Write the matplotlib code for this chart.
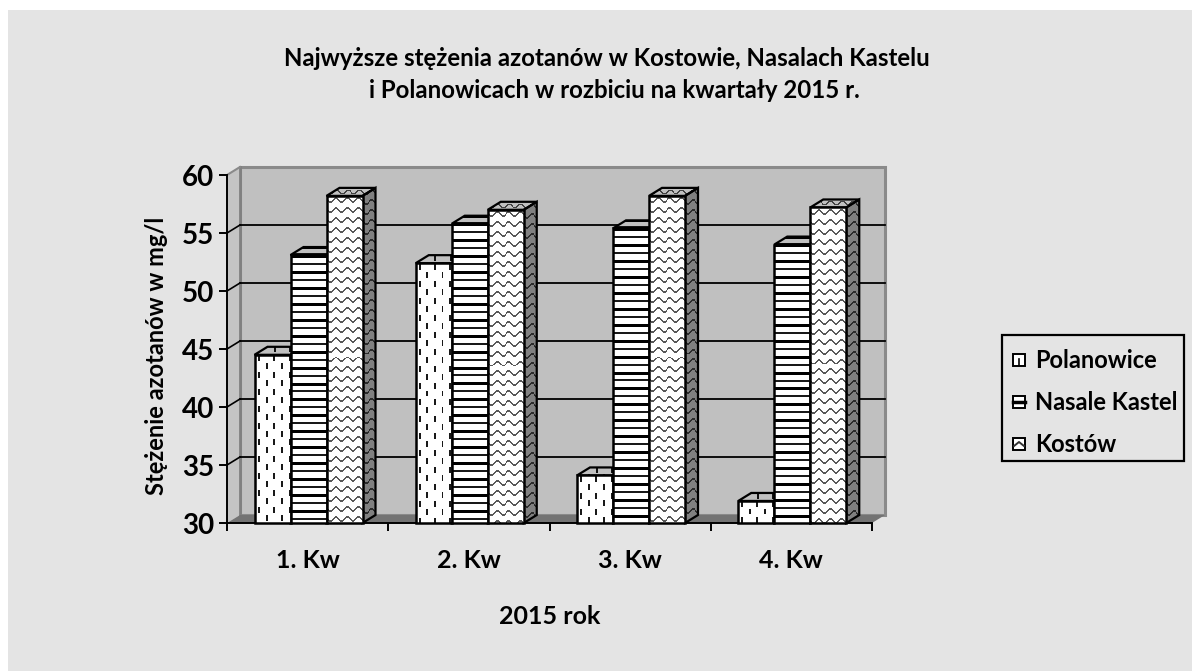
import numpy as np
import matplotlib
matplotlib.use('Agg')
import matplotlib.pyplot as plt
from matplotlib.patches import Polygon, Rectangle
from matplotlib.lines import Line2D

plt.rcParams['font.family'] = ['Lato', 'DejaVu Sans']
plt.rcParams['font.weight'] = 'bold'

# Data
quarters = ['1. Kw', '2. Kw', '3. Kw', '4. Kw']
series = ['Polanowice', 'Nasale Kastel', 'Kostów']
polanowice = [44.5, 52.4, 34.1, 31.9]
nasale = [53.1, 55.8, 55.4, 54.0]
kostow = [58.2, 57.0, 58.2, 57.2]
y_ticks = [30, 35, 40, 45, 50, 55, 60]

W, H = 1192, 671
fig = plt.figure(figsize=(W / 100, H / 100), dpi=100, facecolor='white')

# Grey panel behind everything, runs off the right and bottom edge
fig.patches.append(Rectangle((8 / W, 0), (W - 8) / W, (H - 10) / H, transform=fig.transFigure,
                             facecolor='#e4e4e4', edgecolor='none', zorder=-5))

# Axes sit on the front plane of the fake 3D box
ax = fig.add_axes([227 / W, 1 - 523 / H, 645 / W, 348 / H])
ax.patch.set_visible(False)
for s in ['top', 'right']:
    ax.spines[s].set_visible(False)
for s in ['left', 'bottom']:
    ax.spines[s].set_linewidth(1.4)
    ax.spines[s].set_color('black')

# Depth of the box in data units
dx = 13 / 645 * 4
dy = 8 / 348 * 30
bar_w = 36 / 161.25
start = 27.5 / 161.25


# Textures for the bars
def tile_dashes():
    t = np.ones((17, 16))
    t[1:7, 3:5] = 0.1
    t[9:15, 11:13] = 0.1
    return t


def tile_stripes():
    t = np.ones((16, 8))
    t[0:3, :] = 0
    t[8:10, :] = 0.1
    return t


def tile_waves():
    t = np.ones((10, 12))
    for i in range(12):
        y0 = int(round(4 + 2.5 * np.sin(2 * np.pi * i / 12)))
        t[y0:y0 + 2, i] = 0.35
    return t


tiles = [tile_dashes(), tile_stripes(), tile_waves()]


def textured(poly, tile, x0, x1, y0, y1, level=1.0):
    # fill one polygon with a repeating grey texture
    wpx = int(abs(x1 - x0) / 4 * 645) + 2
    hpx = int(abs(y1 - y0) / 30 * 348) + 2
    ny = hpx // tile.shape[0] + 1
    nx = wpx // tile.shape[1] + 1
    img = np.tile(tile, (ny, nx))[:hpx, :wpx] * level
    im = ax.imshow(img, cmap='gray', vmin=0, vmax=1, extent=[x0, x1, y0, y1], aspect='auto',
                   interpolation='nearest', zorder=poly.get_zorder() - 0.1, clip_on=True)
    im.set_clip_path(poly)


# Walls
wall = '#c0c0c0'
ax.add_patch(Polygon([(dx, 30 + dy), (4 + dx, 30 + dy), (4 + dx, 60 + dy), (dx, 60 + dy)],
                     facecolor=wall, edgecolor='#8a8a8a', lw=2.2, clip_on=False, zorder=1))
ax.add_patch(Polygon([(0, 30), (dx, 30 + dy), (dx, 60 + dy), (0, 60)],
                     facecolor='#c4c4c4', edgecolor='none', clip_on=False, zorder=1))
ax.plot([dx, dx], [30 + dy, 60 + dy], color='#808080', lw=2, clip_on=False, zorder=1.1)
ax.plot([0, dx], [60, 60 + dy], color='#8a8a8a', lw=1.5, clip_on=False, zorder=1.1)
ax.add_patch(Polygon([(0, 30), (4, 30), (4 + dx, 30 + dy), (dx, 30 + dy)],
                     facecolor='#737373', edgecolor='none', clip_on=False, zorder=1.2))

# Gridlines on the back wall and their slanted links to the ticks
for v in y_ticks[1:-1]:
    ax.plot([dx, 4 + dx], [v + dy, v + dy], color='black', lw=1.3, clip_on=False, zorder=1.3)
    ax.plot([0, dx], [v, v + dy], color='black', lw=1.2, clip_on=False, zorder=1.3)

# Bars
z = 3
for i, q in enumerate(quarters):
    for j, vals in enumerate([polanowice, nasale, kostow]):
        v = vals[i]
        x0 = i + start + j * bar_w
        x1 = x0 + bar_w
        zz = z + j
        # side
        side = Polygon([(x1, 30), (x1 + dx, 30 + dy), (x1 + dx, v + dy), (x1, v)],
                       facecolor='none', edgecolor='black', lw=1.6, clip_on=False, zorder=zz + 0.3)
        ax.add_patch(side)
        textured(side, tiles[j], x1, x1 + dx, 30, v + dy, level=0.5)
        # top
        top = Polygon([(x0, v), (x1, v), (x1 + dx, v + dy), (x0 + dx, v + dy)],
                      facecolor='none', edgecolor='black', lw=1.6, clip_on=False, zorder=zz + 0.3)
        ax.add_patch(top)
        textured(top, tiles[j], x0, x1 + dx, v, v + dy, level=0.75)
        # front
        front = Polygon([(x0, 30), (x1, 30), (x1, v), (x0, v)],
                        facecolor='none', edgecolor='black', lw=1.8, clip_on=False, zorder=zz + 0.6)
        ax.add_patch(front)
        textured(front, tiles[j], x0, x1, 30, v)

ax.set_xlim(0, 4)
ax.set_ylim(30, 60)
ax.set_xticks(range(5))
ax.set_xticklabels([])
ax.set_xticks([i + 0.5 for i in range(4)], quarters, minor=True)
ax.tick_params(axis='x', which='minor', length=0, labelsize=18, pad=19)
ax.tick_params(axis='x', which='major', length=6, width=1.4, direction='out')
ax.set_yticks(y_ticks)
ax.tick_params(axis='y', length=6, width=1.4, labelsize=20, pad=3)

# Texts
fig.text(607 / W, 1 - 59 / H, 'Najwyższe stężenia azotanów w Kostowie, Nasalach Kastelu',
         fontsize=17.3, ha='center', va='center')
fig.text(614 / W, 1 - 90 / H, 'i Polanowicach w rozbiciu na kwartały 2015 r.',
         fontsize=17.3, ha='center', va='center')
fig.text(157 / W, 1 - 356 / H, 'Stężenie azotanów w mg/l', fontsize=17, rotation=90, ha='center', va='center')
fig.text(550 / W, 1 - 617 / H, '2015 rok', fontsize=18, ha='center', va='center')

# Legend drawn by hand to get the small boxes
fig.patches.append(Rectangle((1002 / W, 1 - 461 / H), 182 / W, 126 / H, transform=fig.transFigure,
                             facecolor='none', edgecolor='black', lw=1.6))
for name, yc in zip(series, [360, 402, 444]):
    fig.text(1035 / W, 1 - (yc + 1) / H, name, fontsize=17, ha='left', va='center')
    fig.patches.append(Rectangle((1013 / W, 1 - (yc + 6) / H), 12 / W, 12 / H, transform=fig.transFigure,
                                 facecolor='white', edgecolor='black', lw=1.4))
fig.add_artist(Line2D([1019 / W, 1019 / W], [1 - 359 / H, 1 - 365 / H], color='black', lw=1.2))
fig.add_artist(Line2D([1013 / W, 1025 / W], [1 - 402 / H, 1 - 402 / H], color='black', lw=2.5))
fig.add_artist(Line2D([1014 / W, 1019 / W, 1024 / W], [1 - 446 / H, 1 - 442 / H, 1 - 446 / H], color='#333333', lw=1.4))

fig.savefig('out.png', dpi=100)
